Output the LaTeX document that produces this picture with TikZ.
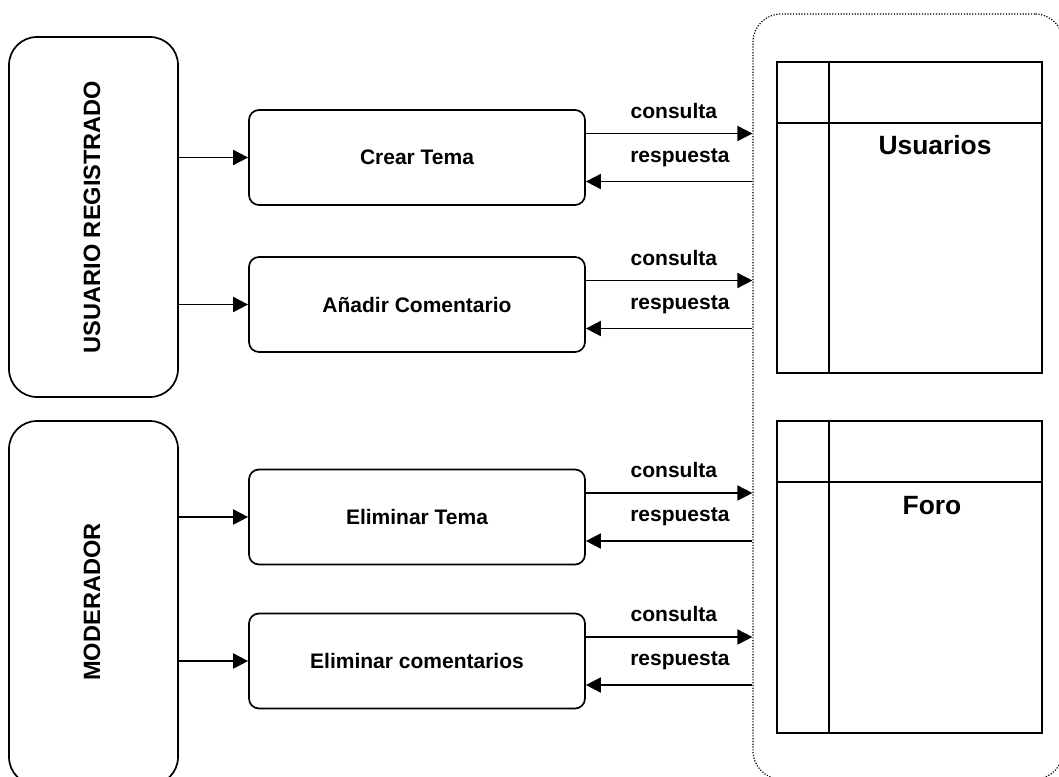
\documentclass[tikz,border=0pt]{standalone}
\usepackage{fontspec}
\setmainfont{Liberation Sans}
\usetikzlibrary{arrows.meta}
\begin{document}
\begin{tikzpicture}[x=1pt,y=-1pt,
  actor/.style={draw,line width=1.7pt,rounded corners=28pt,minimum width=169pt,inner sep=0pt},
  proc/.style={draw,line width=1.7pt,rounded corners=10pt,minimum width=336pt,minimum height=95pt,inner sep=0pt,font=\bfseries\fontsize{21}{24}\selectfont},
  arr/.style={line width=1.7pt,-{Triangle[length=15pt,width=15pt]}},
  lbl/.style={font=\bfseries\fontsize{21}{24}\selectfont,inner sep=0pt},
  tbl/.style={draw,line width=1.7pt,minimum width=265pt,minimum height=311pt,inner sep=0pt},
  tline/.style={line width=1.5pt},
  big/.style={font=\bfseries\fontsize{26.4}{30}\selectfont,inner sep=0pt},
  vert/.style={font=\bfseries\fontsize{23.6}{26}\selectfont,inner sep=0pt},
  contain/.style={draw,line width=1.2pt,dash pattern=on 1.2pt off 1.6pt,rounded corners=28pt,minimum width=310pt,minimum height=765pt,inner sep=0pt}
]
\useasboundingbox (0,0) rectangle (1059,776);
\begin{scope}
\clip (0,0) rectangle (1059,776);
% actors
\node[actor,minimum height=360pt] (ur) at (93.5,217) {};
\node[vert] (urt) at (92,217) {\rotatebox{90}{USUARIO REGISTRADO}};
\node[actor,minimum height=364pt] (mo) at (93.5,603) {};
\node[vert] (mot) at (92,602) {\rotatebox{90}{MODERADOR}};
% container
\node[contain] (db) at (908,396.5) {};
% processes
\node[proc] (p1) at (417,157.5) {Crear Tema};
\node[proc] (p2) at (417,304.5) {Añadir Comentario};
\node[proc] (p3) at (417,517) {Eliminar Tema};
\node[proc] (p4) at (417,661) {Eliminar comentarios};
% actor -> process
\foreach \p in {p1,p2} \draw[arr] (\p.west -| ur.east) -- (\p.west);
\foreach \p in {p3,p4} \draw[arr] (\p.west -| mo.east) -- (\p.west);
% consulta / respuesta
\foreach \p in {p1,p2,p3,p4}{
  \draw[arr] ([yshift=24pt]\p.east) -- ([yshift=24pt]\p.east -| db.west);
  \draw[arr] ([yshift=-24pt]\p.east -| db.west) -- ([yshift=-24pt]\p.east);
  \node[lbl] (c\p) at ([xshift=88pt,yshift=47pt]\p.east) {consulta};
  \node[lbl] (r\p) at ([xshift=94pt,yshift=0pt]\p.east) {respuesta};
}
% tables
\node[tbl] (tu) at (909.5,217.5) {};
\draw[tline] (829,0 |- tu.north) -- (829,0 |- tu.south);
\draw[tline] (tu.west |- 0,123) -- (tu.east |- 0,123);
\node[big] (tut) at (935,145) {Usuarios};
\node[tbl,minimum height=312pt] (tf) at (909.5,577) {};
\draw[tline] (829,0 |- tf.north) -- (829,0 |- tf.south);
\draw[tline] (tf.west |- 0,482) -- (tf.east |- 0,482);
\node[big] (tft) at (932,506) {Foro};
\end{scope}
\end{tikzpicture}
\end{document}
